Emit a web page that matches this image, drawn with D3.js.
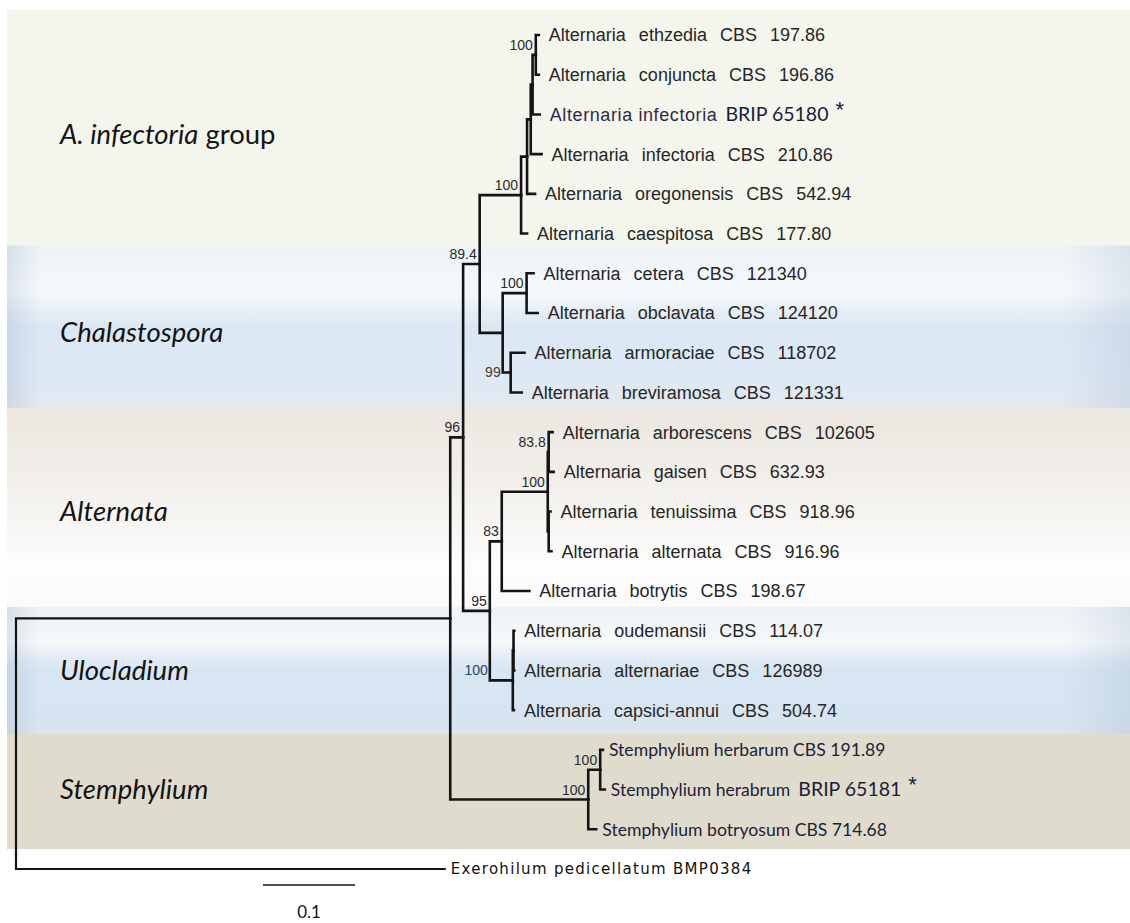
<!DOCTYPE html>
<html>
<head>
<meta charset="utf-8">
<script src="https://cdn.jsdelivr.net/npm/d3@7"></script>
<style>
  body { margin: 0; background: #fff; }
  svg { display: block; }
</style>
</head>
<body>
<script>
'use strict';

// tree topology: [id, parent, branch length (subst./site), bootstrap]
const nodes = [
  ['root', '', 0, ''],
  ['ingroup', 'root', 0.472, ''],
  ['n96', 'ingroup', 0.014, '96'],
  ['n894', 'n96', 0.018, '89.4'],
  ['infG', 'n894', 0.045, '100'],
  ['infB', 'infG', 0.0065, ''],
  ['infC', 'infB', 0.004, ''],
  ['infD', 'infC', 0.002, ''],
  ['infE', 'infD', 0.0035, '100'],
  ['ethzedia', 'infE', 0.0033, ''],
  ['conjuncta', 'infE', 0.0033, ''],
  ['brip65180', 'infD', 0.0078, ''],
  ['infectoria', 'infC', 0.0118, ''],
  ['oregonensis', 'infB', 0.0087, ''],
  ['caespitosa', 'infG', 0.0065, ''],
  ['chal', 'n894', 0.025, ''],
  ['chal100', 'chal', 0.026, '100'],
  ['cetera', 'chal100', 0.0076, ''],
  ['obclavata', 'chal100', 0.012, ''],
  ['chal99', 'chal', 0.0087, '99'],
  ['armoraciae', 'chal99', 0.015, ''],
  ['breviramosa', 'chal99', 0.012, ''],
  ['n95', 'n96', 0.029, '95'],
  ['n83', 'n95', 0.013, '83'],
  ['alt100', 'n83', 0.05, '100'],
  ['alt838', 'alt100', 0.001, '83.8'],
  ['arborescens', 'alt838', 0.0043, ''],
  ['gaisen', 'alt838', 0.0054, ''],
  ['altX', 'alt100', 0.001, ''],
  ['tenuissima', 'altX', 0.002, ''],
  ['alternata', 'altX', 0.003, ''],
  ['botrytis', 'n83', 0.030, ''],
  ['ulo', 'n95', 0.025, '100'],
  ['uloX', 'ulo', 0.0008, ''],
  ['oudemansii', 'uloX', 0.0008, ''],
  ['alternariae', 'uloX', 0.0008, ''],
  ['capsici', 'ulo', 0.0012, ''],
  ['stem', 'ingroup', 0.150, '100'],
  ['stem100', 'stem', 0.013, '100'],
  ['herbarum', 'stem100', 0.003, ''],
  ['herabrum', 'stem100', 0.005, ''],
  ['botryosum', 'stem', 0.0087, ''],
  ['exerohilum', 'root', 0.466, '']
];

// leaf labels: [id, taxon, strain, isolate of this study]
const taxa = [
  ['ethzedia', 'Alternaria ethzedia', 'CBS 197.86', false],
  ['conjuncta', 'Alternaria conjuncta', 'CBS 196.86', false],
  ['brip65180', 'Alternaria infectoria', 'BRIP 65180', true],
  ['infectoria', 'Alternaria infectoria', 'CBS 210.86', false],
  ['oregonensis', 'Alternaria oregonensis', 'CBS 542.94', false],
  ['caespitosa', 'Alternaria caespitosa', 'CBS 177.80', false],
  ['cetera', 'Alternaria cetera', 'CBS 121340', false],
  ['obclavata', 'Alternaria obclavata', 'CBS 124120', false],
  ['armoraciae', 'Alternaria armoraciae', 'CBS 118702', false],
  ['breviramosa', 'Alternaria breviramosa', 'CBS 121331', false],
  ['arborescens', 'Alternaria arborescens', 'CBS 102605', false],
  ['gaisen', 'Alternaria gaisen', 'CBS 632.93', false],
  ['tenuissima', 'Alternaria tenuissima', 'CBS 918.96', false],
  ['alternata', 'Alternaria alternata', 'CBS 916.96', false],
  ['botrytis', 'Alternaria botrytis', 'CBS 198.67', false],
  ['oudemansii', 'Alternaria oudemansii', 'CBS 114.07', false],
  ['alternariae', 'Alternaria alternariae', 'CBS 126989', false],
  ['capsici', 'Alternaria capsici-annui', 'CBS 504.74', false],
  ['herbarum', 'Stemphylium herbarum', 'CBS 191.89', false],
  ['herabrum', 'Stemphylium herabrum', 'BRIP 65181', true],
  ['botryosum', 'Stemphylium botryosum', 'CBS 714.68', false],
  ['exerohilum', 'Exerohilum pedicellatum', 'BMP0384', false]
];

// shaded sections: [name, italic part, plain part, first leaf, last leaf]
const groups = [
  ['infectoria', 'A. infectoria', ' group', 0, 5],
  ['chalastospora', 'Chalastospora', '', 6, 9],
  ['alternata', 'Alternata', '', 10, 14],
  ['ulocladium', 'Ulocladium', '', 15, 17],
  ['stemphylium', 'Stemphylium', '', 18, 20]
];
// section borders, in leaf rows
const groupEdges = [-0.63, 5.3, 9.4, 14.4, 17.6, 20.5];

const scaleBar = 0.1;
// bootstrap values written left of the parent branch
const sideSupport = { chal99: 'mid', ulo: 'above' };

const width = 1130, height = 923;

const root = d3.stratify().id(d => d[0]).parentId(d => d[1] || null)(nodes);
root.eachBefore(n => { n.len = n.parent ? n.parent.len + n.data[2] : 0; });

const leaves = root.leaves();
const x = d3.scaleLinear().domain([0, 1]).range([16, 936]);
const y = d3.scaleLinear().domain([0, leaves.length - 1]).range([35, 869]);

leaves.forEach((l, i) => { l.row = i; l.y = y(i); });
root.eachAfter(n => {
  if (n.children) n.y = (n.children[0].y + n.children[n.children.length - 1].y) / 2;
  n.x = x(n.len);
});

const svg = d3.select('body').append('svg')
  .attr('width', width)
  .attr('height', height);

// BEGIN backgrounds
const defs = svg.append('defs');
const bandStops = {
  infectoria: [[0, '#f4f6ed'], [1, '#f4f6ed']],
  chalastospora: [[0, '#edf2f7'], [0.28, '#f6f9fc'], [0.42, '#e4edf6'], [0.5, '#dbe8f4'], [0.85, '#dee9f4'], [1, '#e4e8ee']],
  alternata: [[0, '#ebe6df'], [0.45, '#f4f2ee'], [0.8, '#fdfdfd'], [1, '#fafafa']],
  ulocladium: [[0, '#eef2f6'], [0.28, '#f6f9fb'], [0.42, '#e0eaf5'], [0.5, '#d8e6f3'], [0.9, '#d7e5f2'], [1, '#dde3ea']],
  stemphylium: [[0, '#e0dccd'], [1, '#e0dccd']]
};
Object.keys(bandStops).forEach(k => {
  const grad = defs.append('linearGradient')
    .attr('id', 'band-' + k)
    .attr('x1', 0).attr('y1', 0).attr('x2', 0).attr('y2', 1);
  grad.selectAll('stop').data(bandStops[k]).enter().append('stop')
    .attr('offset', d => d[0])
    .attr('stop-color', d => d[1]);
});
const edge = defs.append('linearGradient').attr('id', 'band-edge');
edge.selectAll('stop').data([[0, 0.3], [0.03, 0], [0.94, 0], [1, 0.25]]).enter().append('stop')
  .attr('offset', d => d[0])
  .attr('stop-color', '#9fb2c8')
  .attr('stop-opacity', d => d[1]);

const bands = svg.append('g').attr('class', 'bands');
bands.selectAll('rect.band').data(groups).enter().append('rect')
  .attr('class', 'band')
  .attr('x', 7)
  .attr('y', (d, i) => y(groupEdges[i]))
  .attr('width', width - 7)
  .attr('height', (d, i) => y(groupEdges[i + 1]) - y(groupEdges[i]))
  .style('fill', d => 'url(#band-' + d[0] + ')');
bands.selectAll('rect.edge').data(groups.filter(d => d[0] === 'chalastospora' || d[0] === 'ulocladium')).enter().append('rect')
  .attr('class', 'edge')
  .attr('x', 7)
  .attr('y', d => y(groupEdges[groups.indexOf(d)]))
  .attr('width', width - 7)
  .attr('height', d => y(groupEdges[groups.indexOf(d) + 1]) - y(groupEdges[groups.indexOf(d)]))
  .style('fill', 'url(#band-edge)');

const glabel = bands.selectAll('text').data(groups).enter().append('text')
  .attr('x', 60)
  .attr('y', d => (y(d[3]) + y(d[4])) / 2)
  .attr('dy', '0.35em')
  .attr('font-family', 'Lato, "Open Sans", sans-serif')
  .attr('font-size', '27.5px')
  .attr('fill', '#141414');
glabel.append('tspan').attr('font-style', 'italic').text(d => d[1]);
glabel.append('tspan').text(d => d[2]);
// END backgrounds

// BEGIN tree
const tree = svg.append('g').attr('class', 'tree');
tree.selectAll('path').data(root.descendants().filter(n => n.parent)).enter().append('path')
  .attr('d', n => 'M' + n.parent.x + ',' + n.parent.y + 'V' + n.y + 'H' + n.x)
  .attr('fill', 'none')
  .attr('stroke', '#141414')
  .attr('stroke-width', n => n.depth <= 1 ? 2.2 : 2.6)
  .attr('stroke-linecap', 'square');

const support = root.descendants().filter(n => n.data[3] !== '');
tree.selectAll('text.support').data(support).enter().append('text')
  .attr('class', 'support')
  .attr('x', n => sideSupport[n.id] ? n.parent.x - 2 : n.x - 3)
  .attr('y', n => sideSupport[n.id] === 'mid' ? n.y : n.y - 5)
  .attr('dy', n => sideSupport[n.id] === 'mid' ? '0.35em' : 0)
  .attr('text-anchor', 'end')
  .attr('font-family', '"Liberation Sans", Arial, sans-serif')
  .attr('font-size', '14px')
  .attr('fill', n => n.id === 'ulo' ? '#23466f' : (n.id === 'chal99' ? '#4a3a26' : '#2a2a2a'))
  .text(n => n.data[3]);
// END tree

// BEGIN leaf labels
const taxon = new Map(taxa.map(t => [t[0], t]));
const label = tree.selectAll('text.leaf').data(leaves).enter().append('text')
  .attr('class', 'leaf')
  .attr('x', n => n.x + (taxon.get(n.id)[1].startsWith('Alternaria') ? 10 : 6))
  .attr('y', n => n.y)
  .attr('dy', '0.36em')
  .style('white-space', 'pre');

label.each(function(n) {
  const t = taxon.get(n.id);
  const sel = d3.select(this);
  if (t[1].startsWith('Alternaria')) {
    sel.attr('font-family', '"Liberation Sans", Arial, sans-serif')
      .attr('font-size', '18px');
    if (t[3]) {
      sel.append('tspan').attr('fill', '#2c2c46').attr('letter-spacing', '0.6px').text(t[1]);
    } else {
      sel.attr('fill', '#262626').attr('word-spacing', '8px').text(t[1] + ' ' + t[2]);
      return;
    }
  } else if (t[1].startsWith('Stemphylium')) {
    sel.attr('font-family', 'Lato, "Open Sans", sans-serif')
      .attr('font-size', '17.6px')
      .attr('fill', '#1e1e3a');
    if (!t[3]) { sel.text(t[1] + ' ' + t[2]); return; }
    sel.append('tspan').text(t[1]);
  } else {
    sel.attr('font-family', '"DejaVu Sans", sans-serif')
      .attr('font-size', '15px')
      .attr('letter-spacing', '1.3px')
      .attr('fill', '#111')
      .text(t[1] + ' ' + t[2]);
    return;
  }
  // isolates from this study
  sel.append('tspan')
    .attr('dx', 8)
    .attr('font-family', 'Lato, "Open Sans", sans-serif')
    .attr('font-size', '19.5px')
    .attr('fill', '#1b1b3a')
    .text(t[2]);
  sel.append('tspan')
    .attr('dx', 7)
    .attr('dy', -4)
    .attr('font-family', '"Liberation Sans", Arial, sans-serif')
    .attr('font-size', '22px')
    .attr('fill', '#1b1b3a')
    .text('*');
});
// END leaf labels

// scale bar
const bar = svg.append('g').attr('transform', 'translate(263,885)');
bar.append('line')
  .attr('x1', 0).attr('x2', x(scaleBar) - x(0))
  .attr('stroke', '#141414')
  .attr('stroke-width', 1.6);
bar.append('text')
  .attr('x', (x(scaleBar) - x(0)) / 2)
  .attr('y', 33)
  .attr('text-anchor', 'middle')
  .attr('font-family', 'Lato, "Open Sans", sans-serif')
  .attr('font-size', '17px')
  .attr('fill', '#141414')
  .text(scaleBar);
</script>
</body>
</html>
